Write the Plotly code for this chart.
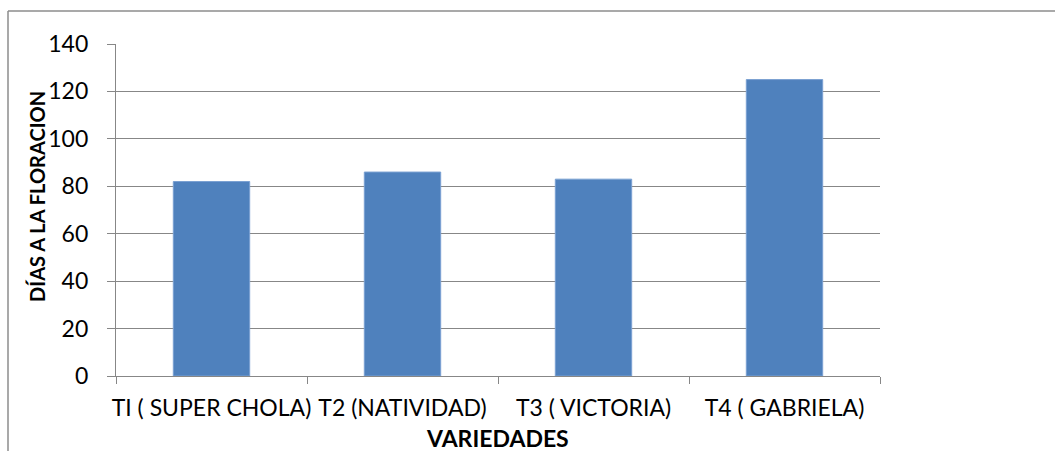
import plotly.graph_objects as go

# Varieties and days to flowering
variedades = ["TI ( SUPER CHOLA)", "T2 (NATIVIDAD)", "T3 ( VICTORIA)", "T4 ( GABRIELA)"]
dias_floracion = [82, 86, 83, 125]
y_ticks = [0, 20, 40, 60, 80, 100, 120, 140]

W, H = 1055, 451
ML, MR, MT, MB = 116, 175, 44, 75
PW, PH = W - ML - MR, H - MT - MB

def px_x(x):
    return (x - ML) / PW

def px_y(y):
    return (H - MB - y) / PH

FONT = "Lato"
GRID = "#878787"

fig = go.Figure(
    go.Bar(
        x=variedades,
        y=dias_floracion,
        width=0.4,
        marker=dict(color="#4F81BD", line=dict(color="#7AA1D2", width=1)),
    )
)

fig.update_layout(
    width=W,
    height=H,
    margin=dict(l=ML, r=MR, t=MT, b=MB, pad=0),
    paper_bgcolor="white",
    plot_bgcolor="white",
    showlegend=False,
    font=dict(family=FONT, size=20, color="black"),
    xaxis=dict(
        type="category",
        range=[-0.5, 3.5],
        automargin=False,
        tickangle=0,
        showline=True,
        linecolor=GRID,
        linewidth=1.3,
        ticks="outside",
        ticklen=7,
        tickwidth=1.3,
        tickcolor=GRID,
        tickson="boundaries",
        showgrid=False,
        ticklabelstandoff=11,
        tickfont=dict(family=FONT, size=23),
    ),
    yaxis=dict(
        range=[0, 140],
        tickvals=y_ticks,
        automargin=False,
        showline=True,
        linecolor=GRID,
        linewidth=1.3,
        ticks="outside",
        ticklen=8,
        tickwidth=1.3,
        tickcolor=GRID,
        showgrid=True,
        gridcolor=GRID,
        gridwidth=1.3,
        zeroline=False,
        ticklabelstandoff=14,
        tickfont=dict(family=FONT, size=23),
    ),
    annotations=[
        dict(
            text="<b>DÍAS A LA FLORACION</b>",
            xref="paper", yref="paper",
            x=px_x(37), y=px_y(197),
            textangle=-90, showarrow=False,
            xanchor="center", yanchor="middle",
            font=dict(family=FONT, size=20),
        ),
        dict(
            text="<b>VARIEDADES</b>",
            xref="paper", yref="paper",
            x=px_x(497), y=px_y(438),
            showarrow=False,
            xanchor="center", yanchor="middle",
            font=dict(family=FONT, size=23),
        ),
    ],
    shapes=[
        # chart area border (left and top edges)
        dict(type="line", xref="paper", yref="paper",
             x0=px_x(8), y0=px_y(11), x1=px_x(W + 5), y1=px_y(11),
             line=dict(color="#8C8C8C", width=1.5)),
        dict(type="line", xref="paper", yref="paper",
             x0=px_x(8), y0=px_y(11), x1=px_x(8), y1=px_y(H + 5),
             line=dict(color="#8C8C8C", width=1.5)),
    ],
)

fig.write_html("out.html")
